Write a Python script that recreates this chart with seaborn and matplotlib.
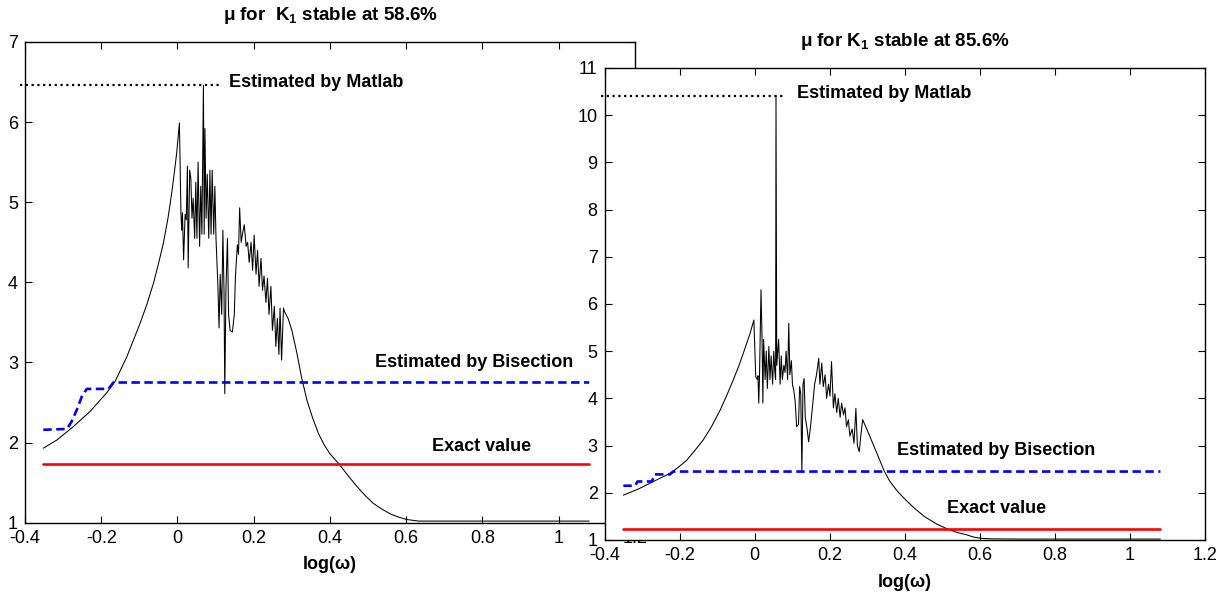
import matplotlib
matplotlib.use("Agg")
import matplotlib.pyplot as plt
from matplotlib.ticker import FuncFormatter
import seaborn as sns

# ---------------- data: K1 stable at 58.6 % ----------------
mu58_x = [-0.352, -0.317, -0.273, -0.229, -0.186, -0.164, -0.133, -0.098, -0.08,
          -0.063, -0.05, -0.037, -0.025, -0.015, -0.008, -0.002, 0.005,
          0.009, 0.011, 0.013, 0.016, 0.020, 0.023, 0.026, 0.028, 0.032, 0.035,
          0.038, 0.041, 0.045, 0.048, 0.051, 0.054, 0.058, 0.061, 0.064, 0.068,
          0.070, 0.072, 0.075, 0.078, 0.082, 0.085, 0.088, 0.091, 0.095, 0.098,
          0.101, 0.106, 0.109, 0.112, 0.116, 0.119, 0.122, 0.124, 0.127, 0.131,
          0.134, 0.138, 0.144, 0.149, 0.152, 0.157, 0.160, 0.163, 0.167, 0.171,
          0.175, 0.180, 0.184, 0.188, 0.193, 0.197, 0.201, 0.206, 0.210, 0.214,
          0.219, 0.223, 0.227, 0.232, 0.236, 0.240, 0.245, 0.249, 0.254, 0.258,
          0.262, 0.266, 0.269, 0.273, 0.278, 0.281,
          0.29, 0.30, 0.313, 0.326, 0.34, 0.355, 0.37, 0.385, 0.40, 0.424,
          0.447, 0.471, 0.492, 0.514, 0.536, 0.558, 0.58, 0.601, 0.633,
          0.70, 0.80, 0.90, 1.00, 1.08]
mu58_y = [1.93, 2.03, 2.20, 2.39, 2.62, 2.76, 3.07, 3.49, 3.73,
          3.99, 4.23, 4.49, 4.80, 5.12, 5.38, 5.62, 5.99,
          4.87, 4.65, 4.87, 4.28, 4.85, 4.78, 5.45, 4.18, 5.40, 5.30,
          4.80, 5.05, 4.55, 5.25, 4.55, 5.50, 4.45, 5.20, 4.60, 6.46,
          4.60, 5.92, 4.80, 5.35, 4.55, 5.40, 4.60, 5.40, 4.60, 5.20,
          4.55, 3.95, 3.43, 4.10, 3.60, 4.65, 3.90, 2.61, 3.90, 4.55,
          3.60, 3.40, 3.38, 3.60, 4.08, 4.47, 4.35, 4.93, 4.50, 4.62,
          4.72, 4.45, 4.50, 4.25, 4.50, 4.15, 4.59, 4.10, 4.40, 3.95,
          4.30, 3.90, 4.08, 3.75, 4.05, 3.60, 3.95, 3.40, 3.70, 3.20,
          3.55, 3.10, 3.68, 3.03, 3.68, 3.63,
          3.55, 3.40, 3.12, 2.80, 2.52, 2.30, 2.11, 1.97, 1.86, 1.73,
          1.59, 1.45, 1.34, 1.24, 1.17, 1.11, 1.07, 1.04, 1.02,
          1.02, 1.02, 1.02, 1.02, 1.02]
bis58_x = [-0.352, -0.29, -0.278, -0.264, -0.251, -0.238, -0.181, -0.168, 1.08]
bis58_y = [2.16, 2.17, 2.26, 2.41, 2.575, 2.67, 2.67, 2.75, 2.75]
exact58_x = [-0.352, 1.08]
exact58_y = [1.73, 1.73]
matlab58_x = [-0.413, 0.117]
matlab58_y = [6.46, 6.46]

# ---------------- data: K1 stable at 85.6 % ----------------
mu85_x = [-0.350, -0.31, -0.270, -0.226, -0.205, -0.181, -0.16, -0.137, -0.115,
          -0.092, -0.075, -0.057, -0.043, -0.030, -0.012, -0.002,
          0.003, 0.007, 0.009, 0.011, 0.013, 0.017, 0.020, 0.022, 0.024, 0.028,
          0.031, 0.034, 0.038, 0.041, 0.044, 0.048, 0.051, 0.054, 0.056, 0.057,
          0.059, 0.064, 0.068, 0.071, 0.074, 0.078, 0.081, 0.084, 0.088, 0.091,
          0.094, 0.098, 0.101, 0.104, 0.108, 0.112, 0.117, 0.120, 0.123, 0.126,
          0.129, 0.132, 0.135, 0.140, 0.144, 0.149, 0.154, 0.160, 0.165, 0.171,
          0.174, 0.179, 0.183, 0.188, 0.192, 0.197, 0.201, 0.205, 0.210, 0.214,
          0.219, 0.223, 0.228, 0.232, 0.237, 0.241, 0.245, 0.250, 0.254, 0.260,
          0.265, 0.270, 0.274, 0.279, 0.283, 0.288,
          0.30, 0.317, 0.33, 0.345, 0.36, 0.38, 0.399, 0.425, 0.454, 0.485,
          0.515, 0.54, 0.565, 0.585, 0.604, 0.63, 0.70, 0.80, 0.90, 1.00, 1.082]
mu85_y = [1.95, 2.08, 2.24, 2.41, 2.53, 2.69, 2.89, 3.12, 3.40,
          3.75, 4.05, 4.39, 4.67, 4.96, 5.38, 5.66,
          4.46, 4.40, 4.48, 3.90, 4.45, 6.30, 5.20, 3.90, 5.25, 4.40,
          5.00, 4.21, 5.10, 4.40, 4.90, 4.30, 5.00, 4.55, 4.40, 10.41,
          4.70, 5.25, 4.30, 4.90, 4.40, 4.70, 4.55, 5.00, 4.40, 5.59,
          4.50, 4.80, 4.28, 4.20, 3.95, 3.40, 3.45, 4.25, 4.10, 2.44,
          4.30, 4.42, 3.60, 3.35, 3.08, 3.40, 3.80, 4.30, 4.50, 4.85,
          4.30, 4.75, 4.25, 4.50, 4.00, 4.30, 4.05, 4.78, 3.80, 4.10,
          3.70, 4.00, 3.60, 3.90, 3.65, 3.80, 3.40, 3.55, 3.20, 3.35,
          3.05, 3.79, 3.00, 2.87, 3.20, 3.55,
          3.33, 3.01, 2.76, 2.47, 2.25, 2.04, 1.88, 1.68, 1.49, 1.34,
          1.23, 1.16, 1.11, 1.06, 1.035, 1.025, 1.02, 1.02, 1.02, 1.02, 1.02]
bis85_x = [-0.350, -0.319, -0.312, -0.274, -0.266, -0.226, -0.217, 1.082]
bis85_y = [2.15, 2.15, 2.24, 2.24, 2.39, 2.39, 2.45, 2.45]
exact85_x = [-0.350, 1.082]
exact85_y = [1.23, 1.23]
matlab85_x = [-0.41, 0.076]
matlab85_y = [10.41, 10.41]

x_ticks = [-0.4, -0.2, 0.0, 0.2, 0.4, 0.6, 0.8, 1.0, 1.2]

sns.set_style("ticks")
plt.rcParams["font.family"] = ["Liberation Sans", "DejaVu Sans"]
plt.rcParams["mathtext.fontset"] = "custom"
plt.rcParams["mathtext.rm"] = "Liberation Sans"
plt.rcParams["mathtext.bf"] = "Liberation Sans:bold"
plt.rcParams["axes.linewidth"] = 1.0
for key in ("text.color", "axes.labelcolor", "xtick.color", "ytick.color",
            "axes.edgecolor"):
    plt.rcParams[key] = "black"

fig = plt.figure(figsize=(12.23, 5.92), dpi=100)
fig.patch.set_facecolor("white")
ax_l = fig.add_axes([0.02044, 0.11706, 0.49877, 0.8120])
ax_r = fig.add_axes([0.49435, 0.08784, 0.49068, 0.7973])


def line(ax, xs, ys, **kw):
    sns.lineplot(x=xs, y=ys, ax=ax, estimator=None, sort=False,
                 legend=False, **kw)


fmt = FuncFormatter(lambda v, p: f"{v:g}")

panels = [
    (ax_l, mu58_x, mu58_y, bis58_x, bis58_y, exact58_x, exact58_y,
     matlab58_x, matlab58_y, (1, 7), range(1, 8),
     r"μ for  K$_{\mathbf{1}}$ stable at 58.6%",
     [(0.136, 6.49, "Estimated by Matlab"),
      (0.517, 3.00, "Estimated by Bisection"),
      (0.668, 1.95, "Exact value")]),
    (ax_r, mu85_x, mu85_y, bis85_x, bis85_y, exact85_x, exact85_y,
     matlab85_x, matlab85_y, (1, 11), range(1, 12),
     r"μ for K$_{\mathbf{1}}$ stable at 85.6%",
     [(0.113, 10.46, "Estimated by Matlab"),
      (0.380, 2.89, "Estimated by Bisection"),
      (0.513, 1.66, "Exact value")]),
]

for (ax, mx, my, bx, by, ex, ey, tx, ty, ylim, yt, title, notes) in panels:
    ax.set_facecolor("white")
    line(ax, mx, my, color="black", linewidth=0.75)
    line(ax, bx, by, color="#0000ff", linewidth=1.9, linestyle=(0, (3.2, 1.7)))
    line(ax, ex, ey, color="#ff0000", linewidth=1.9)
    line(ax, tx, ty, color="black", linewidth=1.6, linestyle=(0, (1.0, 1.6)),
         clip_on=False)
    for x0, y0, s in notes:
        ax.text(x0, y0, s, ha="left", va="center", fontsize=13,
                fontweight="bold", color="black")
    ax.set_xlim(-0.4, 1.2)
    ax.set_ylim(*ylim)
    ax.set_xticks(x_ticks)
    ax.set_yticks(list(yt))
    ax.xaxis.set_major_formatter(fmt)
    ax.yaxis.set_major_formatter(fmt)
    ax.tick_params(direction="in", length=5, width=0.8, top=True, right=True,
                   labelsize=13, pad=5, color="black", labelcolor="black")
    for sp in ax.spines.values():
        sp.set_visible(True)
        sp.set_color("black")
        sp.set_linewidth(1.0)
    ax.set_xlabel("log(ω)", fontsize=13, fontweight="bold", labelpad=7)
    ax.set_ylabel("")
    ax.set_title(title, fontsize=13.5, fontweight="bold", pad=16)

fig.savefig("out.png", dpi=100, facecolor="white")
